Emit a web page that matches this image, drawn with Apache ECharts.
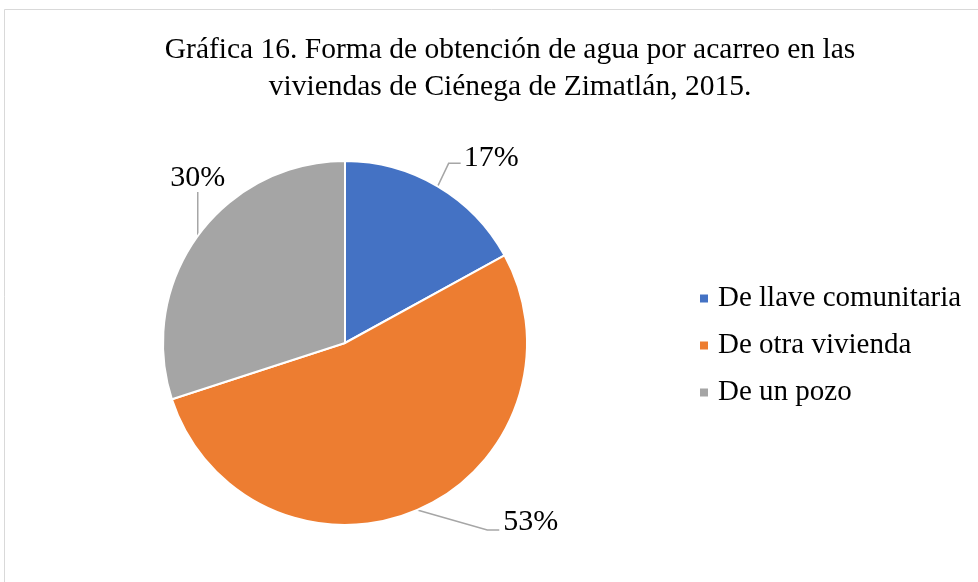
<!DOCTYPE html>
<html>
<head>
<meta charset="utf-8">
<script src="https://cdn.jsdelivr.net/npm/echarts@6/dist/echarts.min.js"></script>
<style>
  html, body { margin: 0; padding: 0; background: #fff; }
  #main { width: 978px; height: 582px; }
</style>
</head>
<body>
<div id="main"></div>
<script>
// datos de la gráfica
var categorias = ['De llave comunitaria', 'De otra vivienda', 'De un pozo'];
var porcentajes = [17, 53, 30];
var colores = ['#4472c4', '#ed7d31', '#a5a5a5'];

var fuente = '"Liberation Serif", "Times New Roman", serif';

var chart = echarts.init(document.getElementById('main'));

var datos = categorias.map(function (c, i) {
    return { name: c, value: porcentajes[i], itemStyle: { color: colores[i] } };
});

// desplazamiento de las guías de etiqueta (tipo "ajuste óptimo" de Excel)
var guias = [
    { d1: [11, -23], d2: 12, align: 'left', dx: 3, dy: -5 },
    { d1: [70, 20], d2: 12, align: 'left', dx: 4, dy: -8 },
    { d1: [0, -44], d2: 0, align: 'center', dx: 0, dy: -14 }
];

var option = {
    backgroundColor: '#fff',
    textStyle: { fontFamily: fuente },
    title: {
        text: 'Gráfica 16. Forma de obtención de agua por acarreo en las\nviviendas de Ciénega de Zimatlán, 2015.',
        left: 505,
        textAlign: 'center',
        top: 27,
        textStyle: {
            fontFamily: fuente,
            fontSize: 29.5,
            fontWeight: 'normal',
            color: '#000',
            lineHeight: 37
        }
    },
    legend: {
        orient: 'vertical',
        left: 693,
        top: 279,
        icon: 'rect',
        itemWidth: 10,
        itemHeight: 10,
        itemGap: 18,
        textStyle: {
            fontFamily: fuente,
            fontSize: 29,
            color: '#000',
            padding: [0, 0, 0, 4]
        },
        data: categorias
    },
    graphic: [{
        type: 'rect',
        shape: { x: 4.5, y: 9.5, width: 1000, height: 600 },
        style: { fill: 'none', stroke: '#d9d9d9', lineWidth: 1 },
        silent: true
    }],
    series: [{
        type: 'pie',
        center: [345, 343],
        radius: 182,
        startAngle: 90,
        clockwise: true,
        data: datos,
        itemStyle: { borderColor: '#fff', borderWidth: 2 },
        label: {
            show: true,
            position: 'outside',
            formatter: '{c}%',
            fontFamily: fuente,
            fontSize: 30,
            color: '#000'
        },
        labelLine: {
            show: true,
            length: 25,
            length2: 12,
            lineStyle: { color: '#a6a6a6', width: 1.5 }
        },
        labelLayout: function (params) {
            var g = guias[params.dataIndex];
            var p0 = params.labelLinePoints[0];
            var p1 = [p0[0] + g.d1[0], p0[1] + g.d1[1]];
            var p2 = [p1[0] + g.d2, p1[1]];
            return {
                x: p2[0] + g.dx,
                y: p2[1] + g.dy,
                align: g.align,
                verticalAlign: 'middle',
                labelLinePoints: [p0, p1, p2]
            };
        },
        emphasis: { disabled: true }
    }]
};

chart.setOption(option);
</script>
</body>
</html>
